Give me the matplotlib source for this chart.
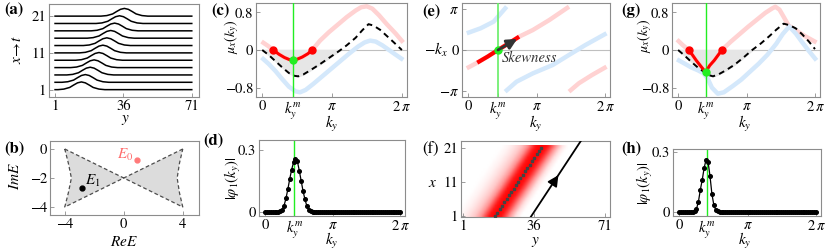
import numpy as np
import matplotlib.pyplot as plt
from matplotlib.colors import LinearSegmentedColormap

plt.rcParams['font.family'] = ['STIXGeneral', 'DejaVu Serif']
plt.rcParams['mathtext.fontset'] = 'stix'

# ---------------- data ----------------
# (a) wave packets, one line every second x row
rows_a = [1, 3, 5, 7, 9, 11, 13, 15, 17, 19, 21]
peak_a = [14.5, 16.5, 19.0, 21.0, 23.5, 25.5, 27.5, 29.5, 31.5, 34.0, 36.5]
bump_dy = [-12, -9, -6, -4, -2, 0, 2, 4, 6, 9, 12]
bump_h = [0.0, 0.15, 0.6, 1.25, 1.85, 2.1, 1.85, 1.25, 0.6, 0.15, 0.0]

# (b) spectrum lobes
lobe_l_re = [-4.0, 0.0, -4.0, -3.76, -3.55, -3.76, -4.0]
lobe_l_im = [0.0, -2.0, -4.0, -3.04, -2.0, -0.96, 0.0]
lobe_r_re = [4.0, 0.0, 4.0, 3.78, 3.62, 3.78, 4.0]
lobe_r_im = [0.0, -2.0, -4.0, -3.04, -2.0, -0.96, 0.0]
E0 = (0.92, -0.73)
E1 = (-2.86, -2.67)

# (c) mu_x(k_y)
km_c = 1.37
pink_c_k = [-0.03, 0.25, 0.5, 0.75, 1.0, 1.2, 1.37, 1.55, 1.8, 2.05, 2.25, 2.6, 3.0, 3.4,
            3.8, 4.2, 4.45, 4.7, 4.95, 5.25, 5.6, 6.0, 6.34]
pink_c_v = [0.18, 0.09, 0.0, -0.09, -0.16, -0.2, -0.22, -0.2, -0.15, -0.08, 0.0, 0.2, 0.38,
            0.54, 0.7, 0.84, 0.91, 0.93, 0.88, 0.74, 0.55, 0.35, 0.16]
blue_c_k = [-0.03, 0.3, 0.6, 0.9, 1.2, 1.5, 1.7, 1.95, 2.3, 2.7, 3.1, 3.5, 3.9, 4.3, 4.6,
            4.85, 5.1, 5.4, 5.7, 6.0, 6.34]
blue_c_v = [-0.16, -0.3, -0.45, -0.62, -0.78, -0.88, -0.9, -0.85, -0.72, -0.56, -0.4, -0.24,
            -0.08, 0.07, 0.16, 0.2, 0.18, 0.1, 0.0, -0.1, -0.21]
dash_c_k = [0.0, 0.3, 0.6, 0.9, 1.2, 1.45, 1.62, 1.85, 2.2, 2.6, 3.0, 3.4, 3.52, 3.8, 4.2,
            4.5, 4.78, 5.0, 5.3, 5.6, 5.9, 6.28]
dash_c_v = [0.0, -0.11, -0.24, -0.37, -0.49, -0.55, -0.56, -0.52, -0.42, -0.3, -0.17, -0.04,
            0.0, 0.1, 0.26, 0.42, 0.55, 0.52, 0.43, 0.3, 0.17, 0.0]
red_c = slice(2, 11)

# (e) -k_x(k_y)
pink_e1_k = [-0.06, 0.42, 0.9, 1.37, 1.85, 2.34, 2.97, 3.73, 4.63]
pink_e1_v = [-1.4, -0.97, -0.5, 0.0, 0.5, 1.02, 1.53, 2.3, 3.32]
pink_e2_k = [4.63, 5.08, 5.68, 6.35]
pink_e2_v = [-3.19, -2.55, -1.92, -1.28]
blue_e1_k = [-0.06, 0.57, 1.17, 1.77]
blue_e1_v = [1.28, 1.66, 2.17, 3.32]
blue_e2_k = [1.7, 2.22, 2.97, 3.88, 4.63, 5.38, 6.35]
blue_e2_v = [-3.19, -2.43, -1.79, -1.15, -0.38, 0.38, 1.28]
red_e = slice(1, 6)
skew_tip = (2.25, 0.85)

# (g) mu_x(k_y), second case
km_g = 1.26
pink_g_k = [-0.05, 0.2, 0.48, 0.65, 0.83, 1.05, 1.26, 1.45, 1.66, 1.85, 2.01, 2.4, 2.8, 3.2,
            3.6, 4.0, 4.3, 4.46, 4.65, 4.85, 5.07, 5.4, 5.8, 6.35]
pink_g_v = [0.22, 0.11, 0.0, -0.1, -0.22, -0.35, -0.47, -0.33, -0.22, -0.1, 0.0, 0.17, 0.33,
            0.49, 0.64, 0.79, 0.88, 0.92, 0.86, 0.7, 0.52, 0.42, 0.3, 0.16]
blue_g_k = [-0.05, 0.3, 0.6, 0.9, 1.15, 1.35, 1.55, 1.82, 2.1, 2.5, 2.9, 3.3, 3.7, 4.1, 4.5,
            4.8, 5.1, 5.4, 5.7, 6.0, 6.35]
blue_g_v = [-0.2, -0.29, -0.37, -0.43, -0.49, -0.6, -0.8, -0.93, -0.9, -0.77, -0.63, -0.46,
            -0.29, -0.1, 0.13, 0.34, 0.5, 0.35, 0.16, -0.02, -0.22]
dash_g_k = [0.0, 0.3, 0.6, 0.9, 1.2, 1.45, 1.6, 1.85, 2.2, 2.6, 3.0, 3.4, 3.8, 4.2, 4.5,
            4.84, 5.1, 5.4, 5.7, 6.0, 6.28]
dash_g_v = [0.0, -0.12, -0.25, -0.37, -0.47, -0.54, -0.56, -0.52, -0.43, -0.31, -0.16, 0.0,
            0.14, 0.3, 0.43, 0.56, 0.53, 0.46, 0.33, 0.18, 0.02]
red_g = slice(2, 11)

# (d), (h) |phi_1(k_y)| on the 72-point k grid, k_n = 2 pi n / 71
phi_d = [0.0] * 8 + [0.003, 0.01, 0.03, 0.065, 0.11, 0.16, 0.205, 0.24, 0.255, 0.245, 0.2,
                     0.15, 0.1, 0.06, 0.028, 0.01, 0.003] + [0.0] * 47
phi_h = [0.0] * 8 + [0.004, 0.015, 0.05, 0.11, 0.16, 0.22, 0.26, 0.25, 0.18, 0.09, 0.035,
                     0.01, 0.003] + [0.0] * 51

# (f) packet density: ridge position per row, cross profile
rows_f = list(range(1, 22))
ridge_f = [17.0, 18.0, 19.2, 20.3, 21.4, 22.5, 23.7, 24.8, 26.0, 27.1, 28.2, 29.3, 30.5,
           31.6, 32.7, 33.8, 35.0, 36.1, 37.3, 38.4, 39.6]
prof_dy = [-20, -16, -13, -10, -7, -5, -3, 0, 3, 5, 7, 10, 13]
prof_v = [0.0, 0.05, 0.12, 0.22, 0.42, 0.68, 0.92, 1.0, 0.92, 0.7, 0.42, 0.12, 0.0]
arrow_f_y = [34.4, 59.1]
arrow_f_x = [0.7, 22.9]
arrow_f_tip = (48.8, 13.6)

# ---------------- figure ----------------
W, H = 830, 252
fig = plt.figure(figsize=(W / 100, H / 100), dpi=100)

PINK = '#ffd2d2'
BLUE = '#d4e8fb'
GREEN = '#22ee22'


def box(x0, y0, x1, y1):
    ax = fig.add_axes([x0 / W, 1 - y1 / H, (x1 - x0) / W, (y1 - y0) / H])
    for s in ax.spines.values():
        s.set_color('0.55')
        s.set_linewidth(0.8)
    ax.tick_params(direction='in', length=3, width=0.6, color='0.55', labelsize=10.5, pad=2)
    return ax


def text(x, y, s, **kw):
    fig.text(x / W, 1 - y / H, s, ha='center', va='center', **kw)


def k_ticks(ax, km):
    ax.set_xticks([0, km, np.pi, 2 * np.pi])
    ax.set_xticklabels(['0', r'$k_y^m$', r'$\pi$', r'$2\,\pi$'])
    ax.set_xlim(-0.28, 6.51)


def mu_panel(ax, km, pk, pv, bk, bv, dk, dv, red):
    ax.axhline(0, color='0.75', lw=0.8, zorder=1)
    dk = np.array(dk)
    dv = np.array(dv)
    ax.fill_between(dk, dv, 0, where=(dv <= 0) & (dk < 4), color='#e6e6e6', zorder=1)
    ax.plot(pk, pv, color=PINK, lw=3.2, solid_capstyle='butt', zorder=2)
    ax.plot(bk, bv, color=BLUE, lw=3.2, solid_capstyle='butt', zorder=2)
    ax.plot(dk, dv, color='k', lw=1.4, dashes=(3, 2.2), zorder=3)
    ax.axvline(km, color=GREEN, lw=1.0, zorder=4)
    rk, rv = pk[red], pv[red]
    ax.plot(rk, rv, color='red', lw=2.2, zorder=5)
    ax.plot([rk[0], rk[-1]], [rv[0], rv[-1]], 'o', color='red', ms=5, zorder=6)
    i = int(np.argmin(rv))
    ax.plot(rk[i], rv[i], 'o', color=GREEN, ms=5, zorder=7)
    k_ticks(ax, km)
    ax.set_ylim(-1.0, 1.0)
    ax.set_yticks([-0.8, 0, 0.8])
    ax.set_yticklabels(['\u22120.8', '0', '0.8'])


def phi_panel(ax, km, phi, top):
    kgrid = 2 * np.pi * np.arange(len(phi)) / 71
    ax.plot(kgrid, phi, color='k', lw=0.9, zorder=3)
    ax.plot(kgrid, phi, 'o', color='k', ms=2.6, zorder=4)
    ax.axvline(km, color=GREEN, lw=1.0, zorder=2)
    k_ticks(ax, km)
    ax.set_ylim(-0.02, top)
    ax.set_yticks([0, 0.3])
    ax.set_yticklabels(['0', '0.3'])


# (a)
ax = box(49, 4, 199, 97)
for r, c in zip(rows_a, peak_a):
    xs = [1] + [c + d for d in bump_dy] + [71]
    ys = [r] + [r + h for h in bump_h] + [r]
    ax.plot(xs, ys, color='k', lw=1.1)
ax.set_xlim(-2.1, 74.7)
ax.set_ylim(-1.0, 24.3)
ax.set_xticks([1, 36, 71])
ax.set_yticks([1, 11, 21])

# (b)
ax = box(50, 141, 199, 215)
for re, im in [(lobe_l_re, lobe_l_im), (lobe_r_re, lobe_r_im)]:
    ax.fill(re, im, color='#dcdcdc', lw=0, zorder=1)
    ax.plot(re, im, color='0.3', lw=0.9, dashes=(3, 2), zorder=2)
ax.plot(*E0, 'o', color='#ff7a7a', ms=3.5, zorder=3)
ax.plot(*E1, 'o', color='k', ms=3.5, zorder=3)
ax.text(E0[0] - 0.25, E0[1] + 0.35, r'$E_{\mathit{0}}$', color='#ff6b6b', fontsize=11,
        ha='right', va='center')
ax.text(E1[0] + 0.25, E1[1] + 0.5, r'$E_{\mathit{1}}$', color='k', fontsize=11,
        ha='left', va='center')
ax.set_xlim(-5.0, 5.1)
ax.set_ylim(-4.55, 0.55)
ax.set_xticks([-4, 0, 4])
ax.set_xticklabels(['\u22124', '0', '4'])
ax.set_yticks([0, -2, -4])
ax.set_yticklabels(['0', '\u22122', '\u22124'])

# (c)
ax = box(256, 3, 407, 97)
mu_panel(ax, km_c, np.array(pink_c_k), np.array(pink_c_v), blue_c_k, blue_c_v,
         dash_c_k, dash_c_v, red_c)

# (d)
ax = box(259, 140, 405, 216)
phi_panel(ax, km_c, phi_d, 0.348)

# (e)
ax = box(462, 3, 610, 97)
ax.axhline(0, color='0.75', lw=0.8, zorder=1)
for kk, vv, col in [(pink_e1_k, pink_e1_v, PINK), (pink_e2_k, pink_e2_v, PINK),
                    (blue_e1_k, blue_e1_v, BLUE), (blue_e2_k, blue_e2_v, BLUE)]:
    ax.plot(kk, vv, color=col, lw=3.2, solid_capstyle='butt', zorder=2)
ax.axvline(km_c, color='#66ee66', lw=1.2, zorder=3)
ax.plot(pink_e1_k[red_e], pink_e1_v[red_e], color='red', lw=3.0, solid_capstyle='butt', zorder=4)
ax.plot(km_c, 0, 'o', color=GREEN, ms=5, zorder=6)
ax.annotate('', xy=skew_tip, xytext=(km_c, 0),
            arrowprops=dict(arrowstyle='-|>', color='#333333', lw=2.0, mutation_scale=15,
                            shrinkA=0, shrinkB=0),
            zorder=7)
ax.text(km_c + 0.18, -0.62, 'Skewness', fontstyle='italic', fontsize=10.5, color='#333333',
        ha='left', va='center')
k_ticks(ax, km_c)
ax.set_ylim(-3.6, 3.6)
ax.set_yticks([-np.pi, 0, np.pi])
ax.set_yticklabels([r'$-\pi$', '0', r'$\pi$'])

# (f)
ax = box(461, 141, 610, 217)
cols = np.arange(1, 72)
img = np.array([np.interp(cols - c, prof_dy, prof_v) for c in ridge_f])
cmap = LinearSegmentedColormap.from_list('wr', ['white', '#ff0000'])
ax.imshow(img, cmap=cmap, origin='lower', aspect='auto', interpolation='bilinear',
          extent=[0.5, 71.5, 0.5, 21.5], vmin=0, vmax=1, zorder=1)
ax.plot(ridge_f, rows_f, 's', color='#444444', ms=1.8, zorder=3)
ax.plot(arrow_f_y, arrow_f_x, color='k', lw=1.3, zorder=3)
ax.annotate('', xy=arrow_f_tip, xytext=(arrow_f_tip[0] - 2.5, arrow_f_tip[1] - 2.25),
            arrowprops=dict(arrowstyle='-|>', color='k', lw=1.3, mutation_scale=16),
            zorder=4)
ax.set_xlim(0.0, 73.5)
ax.set_ylim(0.7, 22.9)
ax.set_xticks([1, 36, 71])
ax.set_yticks([1, 11, 21])

# (g)
ax = box(672, 3, 820, 97)
mu_panel(ax, km_g, np.array(pink_g_k), np.array(pink_g_v), blue_g_k, blue_g_v,
         dash_g_k, dash_g_v, red_g)

# (h)
ax = box(673, 149, 821, 216)
phi_panel(ax, km_g, phi_h, 0.313)

# panel letters and axis titles
for s, x, y in [('(a)', 14, 10), ('(c)', 220, 11), ('(e)', 431, 12), ('(g)', 631, 11),
                ('(b)', 14, 149), ('(d)', 213, 141), ('(h)', 631, 149)]:
    text(x, y, s, fontsize=12, fontweight='bold')
text(430, 149, '(f)', fontsize=12)

text(17, 50, r'$x\!\rightarrow\! t$', fontsize=11, rotation=90)
text(125, 120, r'$y$', fontsize=11)
text(232, 37, r'$\mu_x(k_y)$', fontsize=10, rotation=90)
text(332, 124, r'$k_y$', fontsize=11)
text(436, 50, r'$-k_x$', fontsize=11)
text(536, 124, r'$k_y$', fontsize=11)
text(645, 36, r'$\mu_x(k_y)$', fontsize=10, rotation=90)
text(745, 124, r'$k_y$', fontsize=11)
text(15, 176, r'$ImE$', fontsize=11, rotation=90)
text(124, 242, r'$ReE$', fontsize=11)
text(233, 178, r'$|\varphi_{\mathit{1}}(k_y)|$', fontsize=10.5, rotation=90)
text(332, 241, r'$k_y$', fontsize=11)
text(433, 183, r'$x$', fontsize=11)
text(535, 242, r'$y$', fontsize=11)
text(645, 183, r'$|\varphi_{\mathit{1}}(k_y)|$', fontsize=10.5, rotation=90)
text(745, 241, r'$k_y$', fontsize=11)

fig.savefig('out.png', dpi=100)
